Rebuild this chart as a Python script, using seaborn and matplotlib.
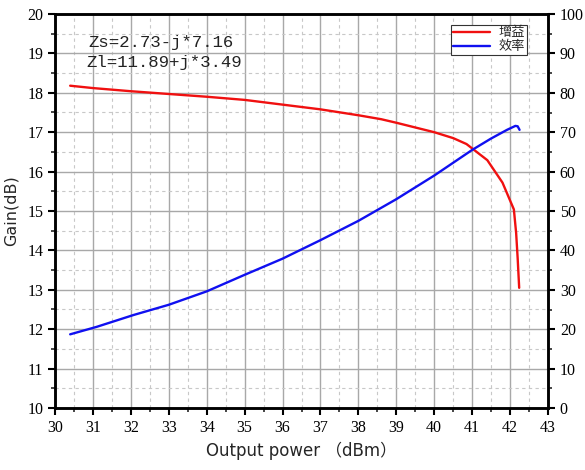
import matplotlib
matplotlib.use("Agg")
import matplotlib.pyplot as plt
import seaborn as sns
import pandas as pd
from matplotlib.ticker import MultipleLocator

# Data
gain_x = [30.4, 31.0, 32.0, 33.0, 34.0, 35.0, 36.0, 37.0, 38.0, 38.6, 39.0, 40.0, 40.5, 40.85, 41.4, 41.8, 42.1, 42.16, 42.2, 42.24]
gain_y = [18.18, 18.12, 18.04, 17.97, 17.90, 17.82, 17.70, 17.58, 17.43, 17.33, 17.24, 17.00, 16.85, 16.70, 16.29, 15.72, 15.04, 14.44, 13.8, 13.05]
eff_x = [30.4, 31.1, 32.07, 33.0, 34.0, 35.0, 36.0, 37.0, 38.0, 38.6, 39.0, 40.0, 41.0, 41.5, 41.92, 42.14, 42.2, 42.25]
eff_y = [18.7, 20.6, 23.6, 26.2, 29.6, 33.8, 37.9, 42.6, 47.5, 50.8, 53.0, 59.0, 65.5, 68.4, 70.6, 71.6, 71.5, 70.6]
labels = ["增益", "效率"]
notes = ["Zs=2.73-j*7.16", "Zl=11.89+j*3.49"]

sns.set_style("white")
plt.rcParams['font.family'] = ['DejaVu Sans', 'Noto Sans CJK SC']

fig = plt.figure(figsize=(5.85, 4.7), dpi=100)
ax = fig.add_axes([55/585, 62/470, 493/585, 394/470])
ax2 = ax.twinx()

gdf = pd.DataFrame({"x": gain_x, "y": gain_y})
edf = pd.DataFrame({"x": eff_x, "y": eff_y})

sns.lineplot(data=gdf, x="x", y="y", ax=ax, color="#f01010", lw=1.7, sort=False, estimator=None, label=labels[0], legend=False)
sns.lineplot(data=edf, x="x", y="y", ax=ax2, color="#1010f0", lw=1.7, sort=False, estimator=None, label=labels[1], legend=False)

ax.set_xlim(30, 43)
ax.set_ylim(10, 20)
ax2.set_ylim(0, 100)
ax.xaxis.set_major_locator(MultipleLocator(1))
ax.xaxis.set_minor_locator(MultipleLocator(0.5))
ax.yaxis.set_major_locator(MultipleLocator(1))
ax.yaxis.set_minor_locator(MultipleLocator(0.5))
ax2.yaxis.set_major_locator(MultipleLocator(10))
ax2.yaxis.set_minor_locator(MultipleLocator(5))

ax.grid(which="major", color="#a8a8a8", lw=1.0, ls="-")
ax.grid(which="minor", color="#c8c8c8", lw=0.8, ls=(0, (3, 3)))
ax.set_axisbelow(True)

serif = "Liberation Serif"
for a in (ax, ax2):
    for s in a.spines.values():
        s.set_linewidth(1.8)
        s.set_color("black")
    a.tick_params(which="major", direction="out", length=5, width=1.5, labelsize=11.5, colors="black")
    a.tick_params(which="minor", direction="out", length=3, width=1.2)
    for lab in a.get_xticklabels() + a.get_yticklabels():
        lab.set_fontfamily(serif)
ax.tick_params(axis="x", which="both", bottom=True)
ax.tick_params(axis="y", which="both", left=True)
ax2.tick_params(axis="y", which="both", right=True)

ax.set_xlabel("Output power \uff08dBm\uff09", fontsize=12, labelpad=4,
              family=['DejaVu Sans', 'Noto Sans CJK SC'])
ax.set_ylabel("Gain(dB)", fontsize=11.5, labelpad=6)
ax2.set_ylabel("")
ax2.set_xlabel("")

mono = "Liberation Mono"
ax.text((88 - 55)/493, 1 - (42 - 14)/394, notes[0], transform=ax.transAxes, fontsize=12.5, family=mono, va="center", ha="left", color="#222222")
ax.text((86 - 55)/493, 1 - (63 - 14)/394, notes[1], transform=ax.transAxes, fontsize=12.5, family=mono, va="center", ha="left", color="#222222")

h1, _ = ax.get_legend_handles_labels()
h2, _ = ax2.get_legend_handles_labels()
leg = ax2.legend(h1 + h2, labels, loc="upper right", bbox_to_anchor=(0.962, 0.98),
                 prop={"family": ["Noto Sans CJK SC"], "size": 9.5},
                 frameon=True, fancybox=False, edgecolor="#333333", framealpha=1,
                 handlelength=2.8, borderpad=0.15, labelspacing=0.05, handletextpad=0.6, borderaxespad=0.2)
leg.get_frame().set_linewidth(0.8)

fig.savefig("out.png", dpi=100)
